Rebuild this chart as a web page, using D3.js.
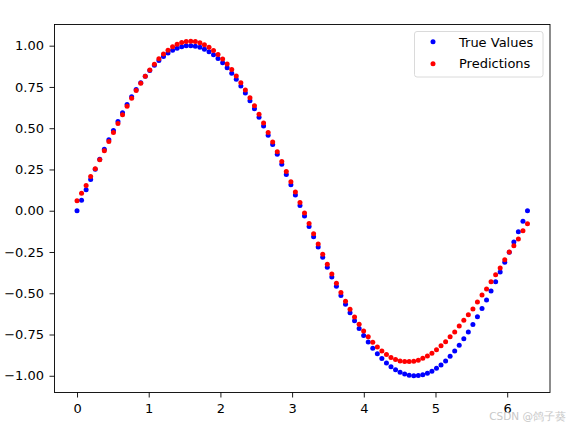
<!DOCTYPE html>
<html><head><meta charset="utf-8">
<script src="https://cdn.jsdelivr.net/npm/d3@7"></script>
<style>body{margin:0;background:#fff}svg{display:block}text{font-family:"DejaVu Sans",sans-serif}</style>
</head><body><svg id="c" width="570" height="427"></svg>
<script>
const xValues=[0.000,0.063,0.127,0.190,0.254,0.317,0.381,0.444,0.508,0.571,0.635,0.698,0.762,0.825,0.889,0.952,1.015,1.079,1.142,1.206,1.269,1.333,1.396,1.460,1.523,1.587,1.650,1.714,1.777,1.841,1.904,1.967,2.031,2.094,2.158,2.221,2.285,2.348,2.412,2.475,2.539,2.602,2.666,2.729,2.793,2.856,2.919,2.983,3.046,3.110,3.173,3.237,3.300,3.364,3.427,3.491,3.554,3.618,3.681,3.745,3.808,3.871,3.935,3.998,4.062,4.125,4.189,4.252,4.316,4.379,4.443,4.506,4.570,4.633,4.697,4.760,4.823,4.887,4.950,5.014,5.077,5.141,5.204,5.268,5.331,5.395,5.458,5.522,5.585,5.649,5.712,5.775,5.839,5.902,5.966,6.029,6.093,6.156,6.220,6.283];
const trueValues=[0.000,0.063,0.127,0.189,0.251,0.312,0.372,0.430,0.486,0.541,0.593,0.643,0.690,0.735,0.776,0.815,0.850,0.881,0.910,0.934,0.955,0.972,0.985,0.994,0.999,1.000,0.997,0.990,0.979,0.964,0.945,0.922,0.896,0.866,0.833,0.796,0.756,0.713,0.667,0.618,0.567,0.514,0.458,0.401,0.342,0.282,0.220,0.158,0.095,0.032,-0.032,-0.095,-0.158,-0.220,-0.282,-0.342,-0.401,-0.458,-0.514,-0.567,-0.618,-0.667,-0.713,-0.756,-0.796,-0.833,-0.866,-0.896,-0.922,-0.945,-0.964,-0.979,-0.990,-0.997,-1.000,-0.999,-0.994,-0.985,-0.972,-0.955,-0.934,-0.910,-0.881,-0.850,-0.815,-0.776,-0.735,-0.690,-0.643,-0.593,-0.541,-0.486,-0.430,-0.372,-0.312,-0.251,-0.189,-0.127,-0.063,0.000];
const predValues=[0.060,0.106,0.153,0.207,0.254,0.309,0.364,0.420,0.474,0.528,0.581,0.633,0.682,0.729,0.773,0.815,0.853,0.888,0.921,0.949,0.973,0.993,1.008,1.019,1.025,1.027,1.025,1.018,1.006,0.991,0.971,0.947,0.920,0.889,0.855,0.817,0.776,0.732,0.685,0.636,0.584,0.531,0.474,0.417,0.358,0.299,0.237,0.175,0.113,0.050,-0.014,-0.077,-0.140,-0.202,-0.264,-0.324,-0.383,-0.440,-0.495,-0.548,-0.597,-0.644,-0.688,-0.728,-0.764,-0.797,-0.825,-0.850,-0.871,-0.889,-0.902,-0.910,-0.913,-0.914,-0.912,-0.906,-0.894,-0.880,-0.863,-0.842,-0.818,-0.794,-0.764,-0.735,-0.699,-0.664,-0.631,-0.595,-0.553,-0.511,-0.475,-0.430,-0.388,-0.347,-0.297,-0.250,-0.212,-0.172,-0.121,-0.079];
const xTicks=[0,1,2,3,4,5,6];
const yTicks=[-1.00,-0.75,-0.50,-0.25,0.00,0.25,0.50,0.75,1.00];
const seriesNames=["True Values","Predictions"];
const seriesColors=["#0000ff","#ff0000"];

const svg=d3.select("#c");
const L=54.5,T=24.5,R=550,B=392.5;
function padExt(a){const e=d3.extent(a),p=(e[1]-e[0])*0.05;return [e[0]-p,e[1]+p];}
const x=d3.scaleLinear().domain(padExt(xValues)).range([L,R]);
const y=d3.scaleLinear().domain(padExt(trueValues.concat(predValues))).range([B,T]);
const FS=13;

const minus=s=>s.replace("-","\u2212");
const xa=svg.append("g").attr("transform",`translate(0,${B})`)
  .call(d3.axisBottom(x).tickValues(xTicks).tickFormat(d3.format("d")).tickSizeOuter(0).tickSize(5).tickPadding(6));
const ya=svg.append("g").attr("transform",`translate(${L},0)`)
  .call(d3.axisLeft(y).tickValues(yTicks).tickFormat(d=>minus(d3.format(".2f")(d))).tickSizeOuter(0).tickSize(5).tickPadding(5.5));
[xa,ya].forEach(a=>{a.select(".domain").remove();a.selectAll("text").attr("font-size",FS).attr("fill","#000");a.selectAll("line").attr("stroke","#000").attr("stroke-width",0.9);});

const series=[trueValues,predValues];
series.forEach((vals,k)=>{
  svg.append("g").selectAll("circle").data(vals).join("circle")
    .attr("cx",(d,i)=>x(xValues[i])).attr("cy",d=>y(d)).attr("r",2.5)
    .attr("fill",seriesColors[k]);
});

svg.append("rect").attr("x",L).attr("y",T).attr("width",R-L).attr("height",B-T)
  .attr("fill","none").attr("stroke","#000").attr("stroke-width",0.9);

const lg=svg.append("g");
lg.append("rect").attr("x",414.5).attr("y",31.5).attr("width",128.5).attr("height",45.5).attr("rx",2.5)
  .attr("fill","#fff").attr("fill-opacity",0.8).attr("stroke","#d6d6d6").attr("stroke-width",0.9);
seriesNames.forEach((n,k)=>{
  lg.append("circle").attr("cx",433).attr("cy",41.8+k*22).attr("r",2.5).attr("fill",seriesColors[k]);
  lg.append("text").attr("x",459).attr("y",46.5+k*21.6).attr("font-size",FS).attr("fill","#000").text(n);
});

svg.append("text").attr("x",566).attr("y",420).attr("text-anchor","end").attr("font-size",10.5)
  .attr("fill","#c8c8c8").attr("font-family","'Noto Sans CJK SC',sans-serif").text("CSDN @鸽子葵");
</script></body></html>
